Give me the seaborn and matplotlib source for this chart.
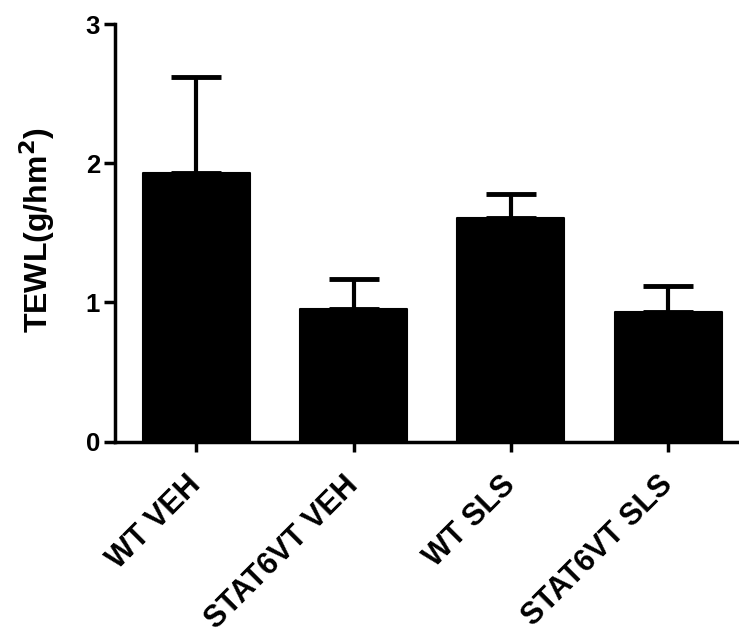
import matplotlib
matplotlib.use("Agg")
import matplotlib.pyplot as plt
import seaborn as sns
import numpy as np

# TEWL per group, mean and upward error (SEM)
groups = ["WT VEH", "STAT6VT VEH", "WT SLS", "STAT6VT SLS"]
means = [1.93, 0.95, 1.61, 0.93]
errs = [0.69, 0.22, 0.17, 0.19]
yticks = [0, 1, 2, 3]

sns.set_style("ticks")
plt.rcParams["font.family"] = ["Liberation Sans", "DejaVu Sans"]
plt.rcParams["font.weight"] = "bold"
plt.rcParams["text.color"] = "black"
plt.rcParams["axes.labelcolor"] = "black"
plt.rcParams["xtick.color"] = "black"
plt.rcParams["ytick.color"] = "black"

fig = plt.figure(figsize=(7.39, 6.37), dpi=100)
ax = fig.add_axes([0.156, 0.3066, 0.844, 0.6557])

sns.barplot(x=groups, y=means, color="black", saturation=1, width=0.68,
            errorbar=None, edgecolor="black", linewidth=1.5, ax=ax, zorder=3)
for p in ax.patches:
    p.set_joinstyle("round")
ax.errorbar(x=np.arange(len(groups)), y=means,
            yerr=[np.zeros(len(errs)), errs], fmt="none", ecolor="black",
            elinewidth=3, capsize=18, capthick=3.5, zorder=2)

ax.set_ylim(0, 3)
ax.set_xlim(-0.515, 3.45)
ax.set_yticks(yticks)
ax.set_ylabel("TEWL(g/hm$^\\mathbf{2}$)", fontsize=23, fontweight="bold")
ax.yaxis.set_label_coords(-0.093, 0.507)
ax.set_xlabel("")

for side in ["top", "right"]:
    ax.spines[side].set_visible(False)
for side in ["left", "bottom"]:
    ax.spines[side].set_linewidth(2.5)
    ax.spines[side].set_color("black")

ax.tick_params(axis="y", width=2.5, length=8, labelsize=18.5, pad=3)
ax.tick_params(axis="x", width=2.5, length=7, labelsize=22, pad=21)
for lab in ax.get_yticklabels():
    lab.set_fontweight("bold")
ax.set_xticks(range(len(groups)))
ax.set_xticklabels(groups, rotation=45, ha="right", va="center",
                   rotation_mode="anchor", fontweight="bold", fontsize=22)

fig.savefig("out.png", dpi=100)
